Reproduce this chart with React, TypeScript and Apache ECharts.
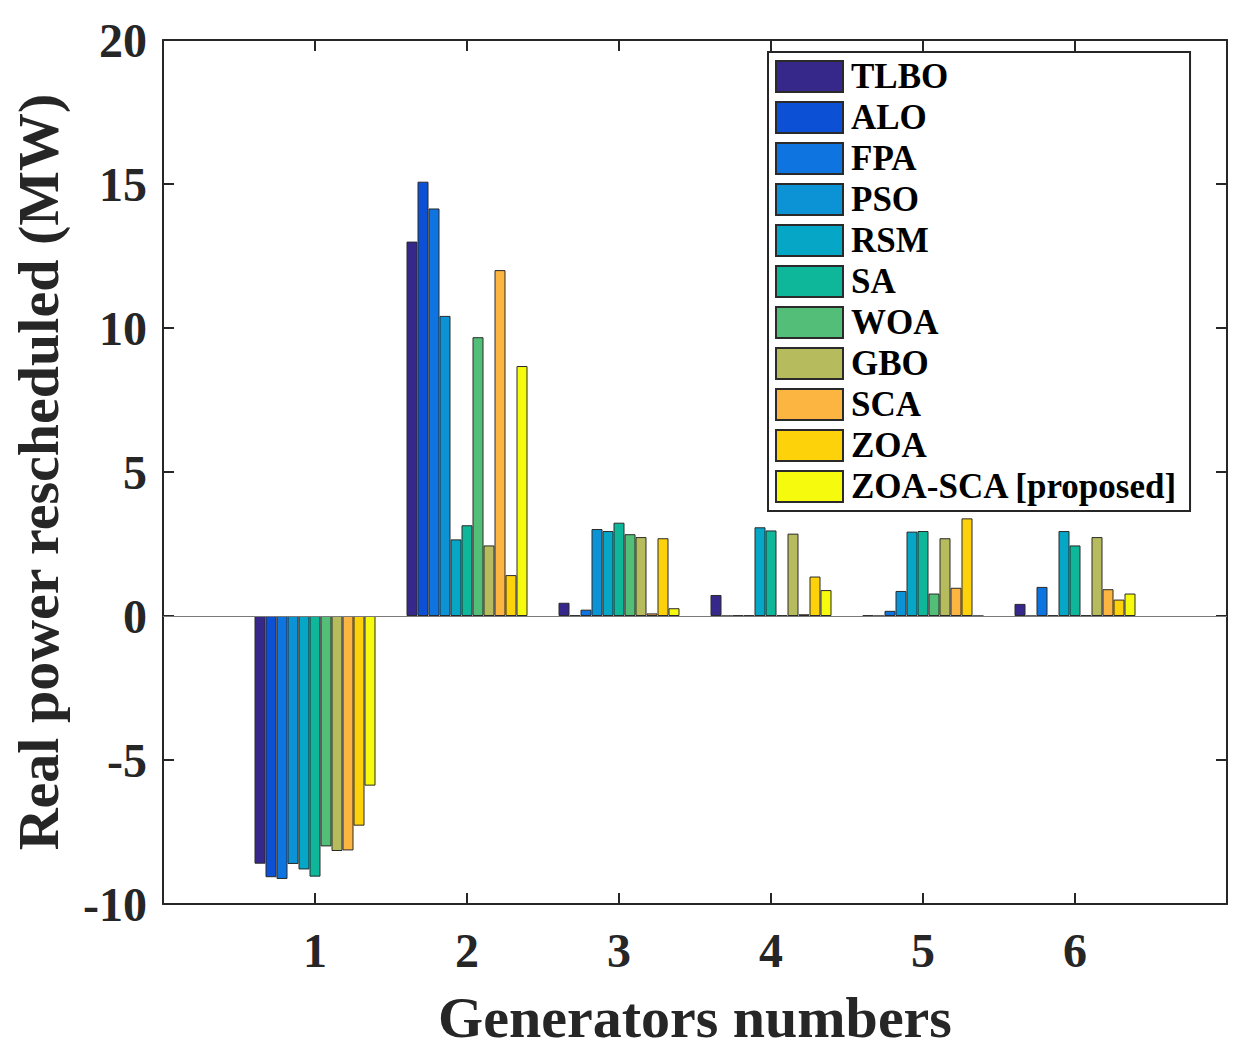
import React, { useEffect, useRef } from "react";
import * as echarts from "echarts";

const generators = ["1", "2", "3", "4", "5", "6"];
const yTicks = [-10, -5, 0, 5, 10, 15, 20];

const seriesNames = ["TLBO", "ALO", "FPA", "PSO", "RSM", "SA", "WOA", "GBO", "SCA", "ZOA", "ZOA-SCA [proposed]"];
const seriesColors = ["#35288a", "#0c50d6", "#0d74e0", "#0b93d5", "#06a6c6", "#0fb79a", "#53be78", "#b6bb5e", "#fdb542", "#fed20b", "#f6fa0c"];

const TLBO = [-8.6, 13.0, 0.46, 0.73, 0.02, 0.42];
const ALO = [-9.07, 15.08, 0.02, 0, 0, 0];
const FPA = [-9.13, 14.15, 0.22, 0.02, 0.18, 1.01];
const PSO = [-8.61, 10.42, 3.02, 0.02, 0.87, 0.02];
const RSM = [-8.8, 2.66, 2.95, 3.08, 2.93, 2.95];
const SA = [-9.05, 3.15, 3.24, 2.97, 2.95, 2.45];
const WOA = [-8.0, 9.68, 2.84, 0.02, 0.78, 0.02];
const GBO = [-8.16, 2.45, 2.74, 2.86, 2.7, 2.74];
const SCA = [-8.14, 12.01, 0.09, 0.06, 0.98, 0.93];
const ZOA = [-7.28, 1.42, 2.7, 1.37, 3.39, 0.57];
const ZOA_SCA = [-5.89, 8.68, 0.27, 0.9, 0, 0.78];

const seriesValues = [TLBO, ALO, FPA, PSO, RSM, SA, WOA, GBO, SCA, ZOA, ZOA_SCA];

const FONT = "'Liberation Serif', 'Times New Roman', serif";
const INK = "#262626";

export default function App() {
  const ref = useRef<HTMLDivElement>(null);

  useEffect(() => {
    document.body.style.margin = "0";
    if (!ref.current) return;
    const chart = echarts.init(ref.current, undefined, { renderer: "svg" });

    // x axis from 0 to 7: pad categories with empty slots at each end
    const cats = ["", ...generators, ""];
    const showIdx = (i: number) => i > 0 && i < cats.length - 1;

    const series: any[] = seriesNames.map((name, si) => ({
      name,
      type: "bar",
      xAxisIndex: 0,
      yAxisIndex: 0,
      barWidth: 11,
      barGap: "0%",
      data: [null, ...seriesValues[si], null],
      itemStyle: { color: seriesColors[si], borderColor: "#2a2a2a", borderWidth: 1 },
      ...(si === 0
        ? {
            markLine: {
              silent: true,
              symbol: ["none", "none"],
              label: { show: false },
              lineStyle: { color: "#7a7a7a", width: 1.2, type: "solid" },
              data: [{ yAxis: 0 }],
            },
          }
        : {}),
    }));

    const tickStyle = { lineStyle: { color: INK, width: 2 } };

    chart.setOption({
      animation: false,
      backgroundColor: "#ffffff",
      grid: { left: 163, right: 22, top: 40, bottom: 153, containLabel: false },
      legend: {
        orient: "vertical",
        left: 768,
        top: 52,
        padding: [7, 12, 7, 7],
        itemWidth: 67,
        itemHeight: 31,
        itemGap: 6,
        icon: "rect",
        backgroundColor: "#ffffff",
        borderColor: INK,
        borderWidth: 2,
        borderRadius: 0,
        textStyle: {
          fontFamily: FONT,
          fontWeight: "bold",
          fontSize: 35,
          color: "#000000",
          padding: [0, 0, 0, 3],
        },
        data: seriesNames,
      },
      xAxis: [
        {
          type: "category",
          data: cats,
          boundaryGap: false,
          position: "bottom",
          name: "Generators numbers",
          nameLocation: "middle",
          nameGap: 84,
          nameTextStyle: { fontFamily: FONT, fontWeight: "bold", fontSize: 58, color: INK },
          axisLine: { show: true, onZero: false, lineStyle: { color: INK, width: 2 } },
          axisTick: { show: true, inside: true, length: 11, interval: (i: number) => showIdx(i), ...tickStyle },
          axisLabel: {
            interval: 0,
            margin: 22,
            fontFamily: FONT,
            fontWeight: "bold",
            fontSize: 48,
            color: INK,
          },
          splitLine: { show: false },
        },
        {
          type: "category",
          data: cats,
          boundaryGap: false,
          position: "top",
          axisLine: { show: true, onZero: false, lineStyle: { color: INK, width: 2 } },
          axisTick: { show: true, inside: true, length: 11, interval: (i: number) => showIdx(i), ...tickStyle },
          axisLabel: { show: false },
          splitLine: { show: false },
        },
      ],
      yAxis: [
        {
          type: "value",
          min: yTicks[0],
          max: yTicks[yTicks.length - 1],
          interval: 5,
          position: "left",
          name: "Real power rescheduled (MW)",
          nameLocation: "middle",
          nameGap: 96,
          nameTextStyle: { fontFamily: FONT, fontWeight: "bold", fontSize: 58, color: INK },
          axisLine: { show: true, onZero: false, lineStyle: { color: INK, width: 2 } },
          axisTick: { show: true, inside: true, length: 11, ...tickStyle },
          axisLabel: {
            margin: 16,
            fontFamily: FONT,
            fontWeight: "bold",
            fontSize: 48,
            color: INK,
          },
          splitLine: { show: false },
        },
        {
          type: "value",
          min: yTicks[0],
          max: yTicks[yTicks.length - 1],
          interval: 5,
          position: "right",
          axisLine: { show: true, onZero: false, lineStyle: { color: INK, width: 2 } },
          axisTick: { show: true, inside: true, length: 11, ...tickStyle },
          axisLabel: { show: false },
          splitLine: { show: false },
        },
      ],
      series,
    });

    return () => chart.dispose();
  }, []);

  return <div ref={ref} style={{ width: 1249, height: 1057 }} />;
}
